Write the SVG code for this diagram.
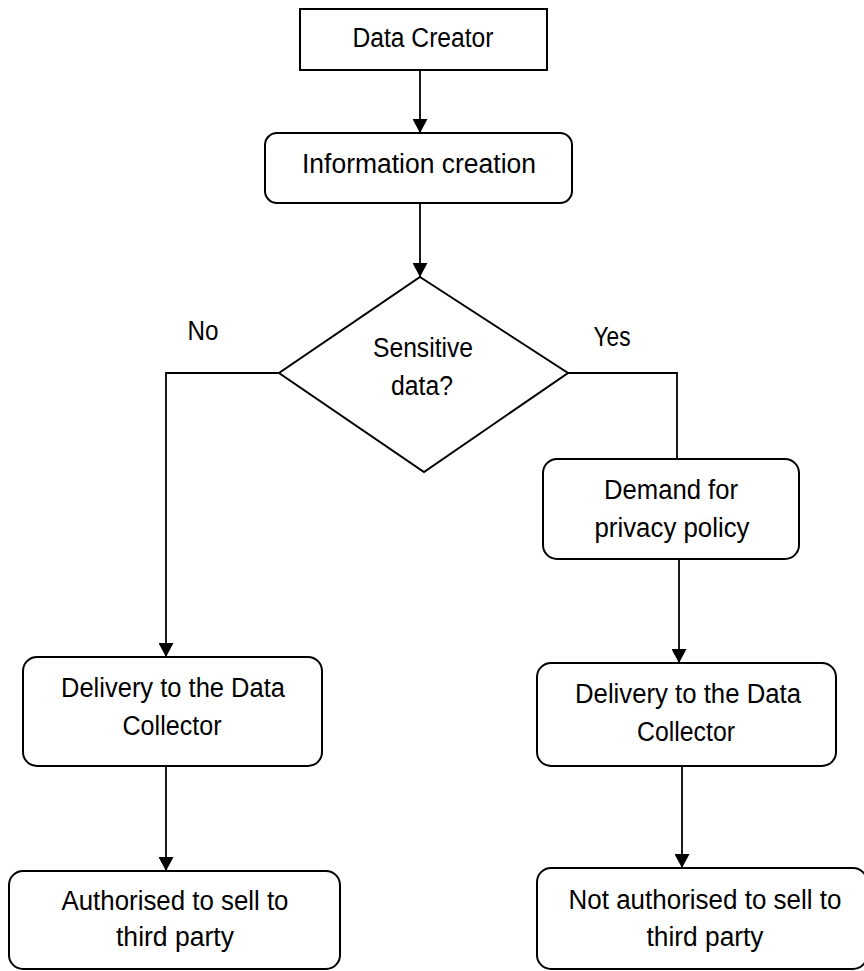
<svg xmlns="http://www.w3.org/2000/svg" width="864" height="971" viewBox="0 0 864 971">
  <style>
    .box { fill: #ffffff; stroke: #000000; stroke-width: 2; }
    .link { fill: none; stroke: #000000; stroke-width: 1.8; }
    .label { font-family: "Liberation Sans", Arial, sans-serif; font-size: 27px; fill: #000000; text-anchor: middle; }
  </style>
  <defs>
    <marker id="arrow" viewBox="0 0 14 15" refX="14" refY="7.5" markerWidth="14" markerHeight="15" markerUnits="userSpaceOnUse" orient="auto">
      <path d="M0,0 L14,7.5 L0,15 Z" fill="#000000"/>
    </marker>
  </defs>
  <rect width="864" height="971" fill="#ffffff"/>

  <!-- connectors -->
  <g id="connectors">
    <line class="link" x1="420" y1="70" x2="420" y2="133" marker-end="url(#arrow)"/>
    <line class="link" x1="420" y1="203" x2="420" y2="277" marker-end="url(#arrow)"/>
    <path class="link" d="M279,373 L166,373 L166,657" marker-end="url(#arrow)"/>
    <path class="link" d="M568,373 L677,373 L677,459"/>
    <line class="link" x1="679" y1="559" x2="679" y2="663" marker-end="url(#arrow)"/>
    <line class="link" x1="166" y1="766" x2="166" y2="871" marker-end="url(#arrow)"/>
    <line class="link" x1="682" y1="766" x2="682" y2="868" marker-end="url(#arrow)"/>
    <text class="label" x="203" y="340" textLength="31" lengthAdjust="spacingAndGlyphs">No</text>
    <text class="label" x="612" y="346" textLength="37" lengthAdjust="spacingAndGlyphs">Yes</text>
  </g>

  <g id="data-creator">
    <rect class="box" x="300" y="9" width="247" height="61"/>
    <text class="label" x="423" y="47" textLength="141" lengthAdjust="spacingAndGlyphs">Data Creator</text>
  </g>

  <g id="information-creation">
    <rect class="box" x="265" y="133" width="307" height="70" rx="12"/>
    <text class="label" x="419" y="173" textLength="234" lengthAdjust="spacingAndGlyphs">Information creation</text>
  </g>

  <g id="sensitive-data">
    <polygon class="box" points="420,277 568,373 424,472 279,373"/>
    <text class="label" x="423" y="357" textLength="100" lengthAdjust="spacingAndGlyphs">Sensitive</text>
    <text class="label" x="422" y="395" textLength="62" lengthAdjust="spacingAndGlyphs">data?</text>
  </g>

  <g id="demand-privacy-policy">
    <rect class="box" x="543" y="459" width="256" height="100" rx="14"/>
    <text class="label" x="671" y="499" textLength="134" lengthAdjust="spacingAndGlyphs">Demand for</text>
    <text class="label" x="672" y="537" textLength="155" lengthAdjust="spacingAndGlyphs">privacy policy</text>
  </g>

  <g id="delivery-left">
    <rect class="box" x="23" y="657" width="299" height="109" rx="14"/>
    <text class="label" x="173" y="697" textLength="224" lengthAdjust="spacingAndGlyphs">Delivery to the Data</text>
    <text class="label" x="172" y="735" textLength="99" lengthAdjust="spacingAndGlyphs">Collector</text>
  </g>

  <g id="delivery-right">
    <rect class="box" x="537" y="663" width="299" height="103" rx="14"/>
    <text class="label" x="688" y="703" textLength="226" lengthAdjust="spacingAndGlyphs">Delivery to the Data</text>
    <text class="label" x="686" y="741" textLength="98" lengthAdjust="spacingAndGlyphs">Collector</text>
  </g>

  <g id="authorised">
    <rect class="box" x="9" y="871" width="331" height="98" rx="14"/>
    <text class="label" x="175" y="910" textLength="227" lengthAdjust="spacingAndGlyphs">Authorised to sell to</text>
    <text class="label" x="175" y="946" textLength="118" lengthAdjust="spacingAndGlyphs">third party</text>
  </g>

  <g id="not-authorised">
    <rect class="box" x="537" y="868" width="330" height="101" rx="14"/>
    <text class="label" x="705" y="909" textLength="273" lengthAdjust="spacingAndGlyphs">Not authorised to sell to</text>
    <text class="label" x="705" y="946" textLength="117" lengthAdjust="spacingAndGlyphs">third party</text>
  </g>
</svg>
